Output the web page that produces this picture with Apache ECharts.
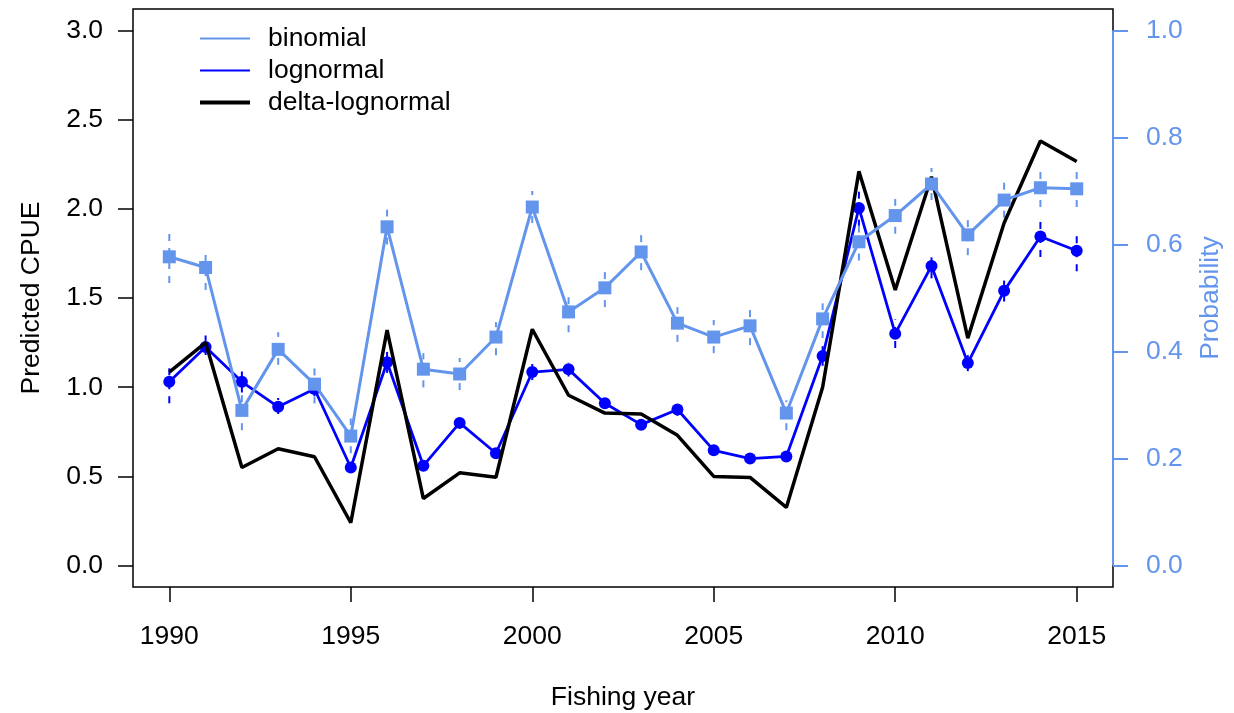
<!DOCTYPE html>
<html>
<head>
<meta charset="utf-8">
<script src="https://cdn.jsdelivr.net/npm/echarts@6/dist/echarts.min.js"></script>
<style>
html,body{margin:0;padding:0;background:#fff;}
#chart{width:1234px;height:713px;}
</style>
</head>
<body>
<div id="chart"></div>
<script>
var years = [1990,1991,1992,1993,1994,1995,1996,1997,1998,1999,2000,2001,2002,2003,2004,2005,2006,2007,2008,2009,2010,2011,2012,2013,2014,2015];
var binomial   = [0.577,0.557,0.290,0.404,0.339,0.242,0.633,0.367,0.358,0.427,0.670,0.474,0.519,0.586,0.453,0.427,0.448,0.285,0.461,0.605,0.654,0.713,0.618,0.683,0.706,0.704];
var binomialLo = [0.528,0.515,0.253,0.375,0.303,0.210,0.600,0.333,0.328,0.393,0.640,0.436,0.483,0.552,0.418,0.397,0.412,0.253,0.425,0.570,0.620,0.683,0.580,0.650,0.670,0.670];
var binomialHi = [0.624,0.590,0.325,0.436,0.370,0.275,0.665,0.397,0.388,0.455,0.700,0.506,0.552,0.618,0.483,0.459,0.481,0.309,0.490,0.640,0.685,0.743,0.652,0.717,0.740,0.740];
var lognormal   = [1.03,1.225,1.03,0.89,0.99,0.55,1.14,0.56,0.80,0.63,1.085,1.10,0.91,0.79,0.875,0.646,0.60,0.612,1.175,2.005,1.30,1.68,1.135,1.54,1.845,1.765];
var lognormalLo = [0.91,1.18,0.97,0.85,0.95,0.52,1.08,0.53,0.77,0.60,1.04,1.06,0.88,0.77,0.84,0.62,0.58,0.59,1.12,1.90,1.22,1.61,1.09,1.48,1.73,1.65];
var lognormalHi = [1.14,1.29,1.09,0.94,1.03,0.59,1.21,0.59,0.83,0.66,1.13,1.14,0.94,0.82,0.90,0.66,0.62,0.63,1.23,2.12,1.38,1.76,1.18,1.61,1.96,1.87];
var deltaLognormal = [1.085,1.25,0.55,0.655,0.61,0.24,1.32,0.376,0.52,0.495,1.325,0.955,0.855,0.85,0.73,0.50,0.494,0.326,1.0,2.21,1.545,2.18,1.275,1.92,2.38,2.265];
var xTicks = [1990,1995,2000,2005,2010,2015];
var leftTicks = [0,0.5,1,1.5,2,2.5,3];
var rightTicks = [0,0.2,0.4,0.6,0.8,1];
var seriesNames = ['binomial','lognormal','delta-lognormal'];

var LIGHT = '#6495ED', BLUE = '#0000FF', BLACK = '#000000';
var FONT = 'Liberation Sans, Arial, Helvetica, sans-serif';
var FS = 26.5;

function pairs(ys){ return years.map(function(x,i){ return [x, ys[i]]; }); }
function bars(lo, hi){ return years.map(function(x,i){ return [x, lo[i], hi[i]]; }); }
function errorSeries(lo, hi, color, yIdx){
  return {
    type:'custom', yAxisIndex:yIdx, z:1, silent:true,
    data: bars(lo, hi),
    encode:{x:0, y:[1,2]},
    renderItem: function(params, api){
      var p1 = api.coord([api.value(0), api.value(1)]);
      var p2 = api.coord([api.value(0), api.value(2)]);
      return {type:'line', shape:{x1:p1[0],y1:p1[1],x2:p2[0],y2:p2[1]},
              style:{stroke:color, lineWidth:2, lineDash:[7,7]}};
    }
  };
}

var chart = echarts.init(document.getElementById('chart'), null, {renderer:'canvas'});
chart.setOption({
  animation:false,
  backgroundColor:'#fff',
  grid:{left:133, right:121, top:9, bottom:126, show:true, borderColor:BLACK, borderWidth:1.5,
        backgroundColor:'transparent', containLabel:false, outerBoundsMode:'none'},
  legend:{
    orient:'vertical', left:193, top:20, itemWidth:50, itemHeight:14, itemGap:5,
    data: [
      {name:seriesNames[0], lineStyle:{color:LIGHT, width:2}},
      {name:seriesNames[1], lineStyle:{color:BLUE, width:2}},
      {name:seriesNames[2], lineStyle:{color:BLACK, width:4}}
    ],
    itemStyle:{color:'rgba(0,0,0,0)', borderColor:'rgba(0,0,0,0)', borderWidth:0, opacity:0},
    textStyle:{fontFamily:FONT, fontSize:FS, color:'#000', lineHeight:26, padding:[0,0,0,13]},
    selectedMode:false
  },
  xAxis:{
    type:'value', min:1989, max:2016,
    name:'Fishing year', nameLocation:'middle', nameGap:97,
    nameTextStyle:{fontFamily:FONT, fontSize:FS, color:'#000'},
    axisLine:{show:false, onZero:false},
    axisTick:{show:true, length:15, inside:false, customValues:xTicks, lineStyle:{color:BLACK, width:1.5}},
    axisLabel:{customValues:xTicks, margin:36, fontFamily:FONT, fontSize:FS, color:'#000',
      formatter:function(v){ return String(v); }},
    splitLine:{show:false}
  },
  yAxis:[{
    type:'value', min:-0.12, max:3.12, position:'left',
    name:'Predicted CPUE', nameLocation:'middle', nameGap:88,
    nameTextStyle:{fontFamily:FONT, fontSize:FS, color:'#000'},
    axisLine:{show:false, onZero:false},
    axisTick:{show:true, length:15, inside:false, customValues:leftTicks, lineStyle:{color:BLACK, width:1.5}},
    axisLabel:{customValues:leftTicks, margin:30, fontFamily:FONT, fontSize:FS, color:'#000',
      formatter:function(v){ return v.toFixed(1); }},
    splitLine:{show:false}
  },{
    type:'value', min:-0.04, max:1.04, position:'right',
    name:'Probability', nameLocation:'middle', nameGap:84,
    nameTextStyle:{fontFamily:FONT, fontSize:FS, color:LIGHT},
    axisLine:{show:false, onZero:false},
    axisTick:{show:true, length:15, inside:false, customValues:rightTicks, lineStyle:{color:LIGHT, width:2}},
    axisLabel:{customValues:rightTicks, margin:33, fontFamily:FONT, fontSize:FS, color:LIGHT,
      formatter:function(v){ return v.toFixed(1); }},
    splitLine:{show:false}
  }],
  series:[
    {type:'line', name:'_axis', yAxisIndex:1, data:[[2016,0],[2016,1]], symbol:'none', silent:true, z:5,
     lineStyle:{color:LIGHT, width:2}, clip:false},
    errorSeries(lognormalLo, lognormalHi, BLUE, 0),
    errorSeries(binomialLo, binomialHi, LIGHT, 1),
    {type:'line', name:'_lognormal', yAxisIndex:0, data:pairs(lognormal), z:2,
     symbol:'circle', symbolSize:12, itemStyle:{color:BLUE}, lineStyle:{color:BLUE, width:2.8}},
    {type:'line', name:'_delta', yAxisIndex:0, data:pairs(deltaLognormal), z:3,
     symbol:'none', lineStyle:{color:BLACK, width:3.5}},
    {type:'line', name:'_binomial', yAxisIndex:1, data:pairs(binomial), z:4,
     symbol:'rect', symbolSize:13, itemStyle:{color:LIGHT}, lineStyle:{color:LIGHT, width:3}},
    {type:'line', name:seriesNames[0], data:[], symbol:'none', itemStyle:{color:LIGHT}, lineStyle:{color:LIGHT, width:2}},
    {type:'line', name:seriesNames[1], data:[], symbol:'none', itemStyle:{color:BLUE}, lineStyle:{color:BLUE, width:2}},
    {type:'line', name:seriesNames[2], data:[], symbol:'none', itemStyle:{color:BLACK}, lineStyle:{color:BLACK, width:4}}
  ]
});
</script>
</body>
</html>
